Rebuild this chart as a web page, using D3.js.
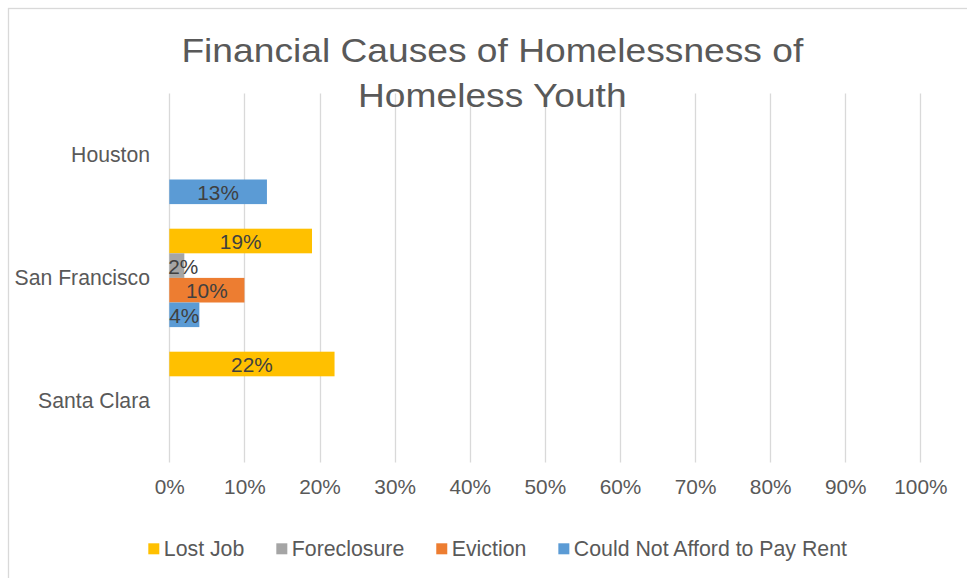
<!DOCTYPE html>
<html>
<head>
<meta charset="utf-8">
<script src="https://cdn.jsdelivr.net/npm/d3@7"></script>
<style>
  html, body { margin: 0; padding: 0; background: #fff; }
  svg { display: block; font-family: "Liberation Sans", Arial, sans-serif; }
</style>
</head>
<body>
<svg id="chart" width="967" height="578"></svg>
<script>
// Cities, top to bottom
const categories = ["Houston", "San Francisco", "Santa Clara"];
// Series in legend order (top to bottom inside each city group)
const seriesNames = ["Lost Job", "Foreclosure", "Eviction", "Could Not Afford to Pay Rent"];
const seriesColors = ["#FFC000", "#A5A5A5", "#ED7D31", "#5B9BD5"];
// Share of youth per cause, one array per series, aligned with categories (null = no bar)
const lostJob = [null, 0.19, 0.22];
const foreclosure = [null, 0.02, null];
const eviction = [null, 0.10, null];
const couldNotAffordRent = [0.13, 0.04, null];
const seriesValues = [lostJob, foreclosure, eviction, couldNotAffordRent];
// Axis ticks
const tickValues = [0, 0.1, 0.2, 0.3, 0.4, 0.5, 0.6, 0.7, 0.8, 0.9, 1.0];
const titleLines = ["Financial Causes of Homelessness of", "Homeless Youth"];

const svg = d3.select("#chart");
const textColor = "#595959";
const labelColor = "#404040";
const gridColor = "#d9d9d9";

const plot = { left: 169.3, right: 920.4, top: 93.4, bottom: 462.4 };

const x = d3.scaleLinear().domain([0, 1]).range([plot.left, plot.right]);
const y = d3.scaleBand().domain(categories).range([plot.top, plot.bottom]).paddingInner(0).paddingOuter(0);
const ySeries = d3.scaleBand().domain(seriesNames)
  .range([y.bandwidth() * 0.1, y.bandwidth() * 0.9]).padding(0);

// Outer chart border
svg.append("rect")
  .attr("x", 8.5).attr("y", 8.5).attr("width", 980).attr("height", 600)
  .attr("fill", "none").attr("stroke", gridColor).attr("stroke-width", 1.3);

// Vertical gridlines
svg.append("g").selectAll("line").data(tickValues).join("line")
  .attr("x1", d => Math.round(x(d)) + 0.5).attr("x2", d => Math.round(x(d)) + 0.5)
  .attr("y1", plot.top).attr("y2", plot.bottom)
  .attr("stroke", gridColor).attr("stroke-width", 1.3);

// Tick labels along the bottom via d3 axis
const xAxis = d3.axisBottom(x).tickValues(tickValues).tickFormat(d3.format(".0%")).tickSize(0).tickPadding(0);
const axisG = svg.append("g").attr("transform", `translate(0, ${plot.bottom})`).call(xAxis);
axisG.select(".domain").remove();
axisG.selectAll("text")
  .attr("y", 0).attr("dy", null)
  .attr("transform", "translate(0, 31.6)")
  .attr("fill", textColor)
  .style("font-size", "20.8px")
  .style("font-family", "'Liberation Sans', Arial, sans-serif");

// Category labels
svg.append("g").selectAll("text").data(categories).join("text")
  .attr("x", 150).attr("y", d => y(d) + y.bandwidth() / 2 + 6.8)
  .attr("text-anchor", "end")
  .attr("fill", textColor).style("font-size", "21.2px")
  .text(d => d);

// Bars
const barData = [];
seriesNames.forEach((s, si) => {
  categories.forEach((c, ci) => {
    const v = seriesValues[si][ci];
    if (v !== null && v !== undefined) barData.push({ series: s, si, cat: c, value: v });
  });
});

const bars = svg.append("g");
bars.selectAll("rect").data(barData).join("rect")
  .attr("x", x(0))
  .attr("y", d => y(d.cat) + ySeries(d.series))
  .attr("width", d => x(d.value) - x(0))
  .attr("height", ySeries.bandwidth())
  .attr("fill", d => seriesColors[d.si]);

// Data labels, centred on each bar but kept inside the plot's left edge
const labels = svg.append("g").selectAll("text").data(barData).join("text")
  .attr("y", d => y(d.cat) + ySeries(d.series) + ySeries.bandwidth() / 2 + 8.1)
  .attr("text-anchor", "middle")
  .attr("fill", labelColor).style("font-size", "20.8px")
  .text(d => d3.format(".0%")(d.value));
labels.attr("x", function (d) {
  const w = this.getComputedTextLength();
  const cx = (x(0) + x(d.value)) / 2;
  return Math.max(cx, x(0) + w / 2 - 1);
});

// Title (drawn over the gridlines)
const titleG = svg.append("g");
const titleBaselines = [61.8, 107.4];
titleLines.forEach((line, i) => {
  titleG.append("text")
    .attr("transform", `translate(492.3, ${titleBaselines[i]}) scale(1.144, 1)`)
    .attr("text-anchor", "middle")
    .attr("fill", textColor).style("font-size", "32.5px")
    .text(line);
});

// Legend
const legend = svg.append("g");
const legendItems = legend.selectAll("g").data(seriesNames).join("g");
legendItems.append("rect")
  .attr("width", 11).attr("height", 11)
  .attr("fill", (d, i) => seriesColors[i]);
legendItems.append("text")
  .attr("x", 15.5).attr("y", 12.7)
  .attr("fill", textColor).style("font-size", "21.3px")
  .text(d => d);
let cursor = 148.3;
legendItems.each(function () {
  const g = d3.select(this);
  g.attr("transform", `translate(${cursor}, 543.3)`);
  const w = g.select("text").node().getComputedTextLength();
  cursor += 15.5 + w + 32;
});
</script>
</body>
</html>
